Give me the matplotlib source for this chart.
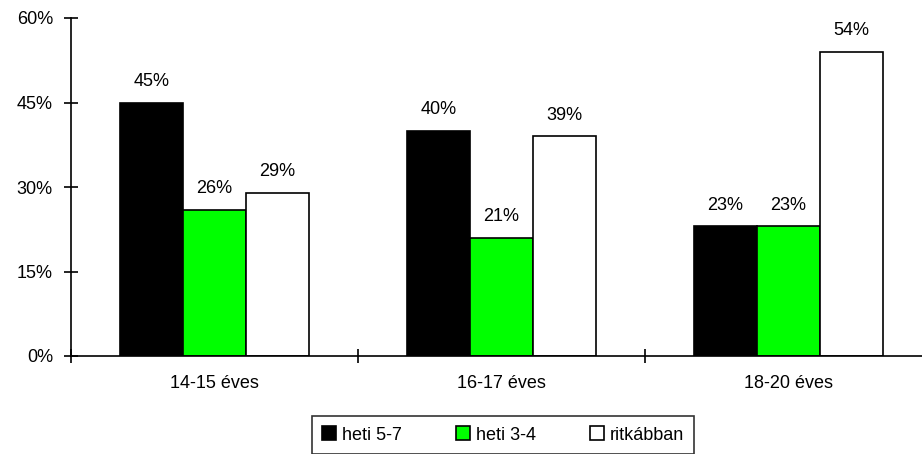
import matplotlib
matplotlib.use("Agg")
import matplotlib.pyplot as plt
import numpy as np
from matplotlib.ticker import FixedLocator, FuncFormatter

plt.rcParams['font.family'] = ['Liberation Sans', 'DejaVu Sans']

categories = ["14-15 éves", "16-17 éves", "18-20 éves"]
series_names = ["heti 5-7", "heti 3-4", "ritkábban"]
heti57 = [45, 40, 23]
heti34 = [26, 21, 23]
ritkabban = [29, 39, 54]
colors = ["#000000", "#00ff00", "#ffffff"]

fig = plt.figure(figsize=(9.22, 4.54), dpi=100)
ax = fig.add_axes([71/922, 98/454, 861/922, 338/454])

x = np.arange(len(categories))
w = 0.22
fs = 13
for i, (vals, name, c) in enumerate(zip([heti57, heti34, ritkabban], series_names, colors)):
    pos = x + (i - 1) * w
    bars = ax.bar(pos, vals, width=w, color=c, edgecolor="black", linewidth=1.2, label=name)
    for b, v in zip(bars, vals):
        ax.annotate(f"{v}%", (b.get_x() + b.get_width() / 2, v), xytext=(0, 9),
                    textcoords="offset points", ha="center", va="bottom", fontsize=fs)

ax.set_xlim(-0.5, 2.5)
ax.set_ylim(0, 60)
ax.yaxis.set_major_locator(FixedLocator([0, 15, 30, 45, 60]))
ax.yaxis.set_major_formatter(FuncFormatter(lambda v, p: f"{v:.0f}%"))
ax.xaxis.set_major_locator(FixedLocator([-0.5, 0.5, 1.5, 2.5]))
ax.xaxis.set_major_formatter(FuncFormatter(lambda v, p: ""))
ax.xaxis.set_minor_locator(FixedLocator(list(x)))
ax.set_xticklabels(categories, minor=True)
ax.tick_params(axis="x", which="minor", length=0, pad=14, labelsize=fs)
ax.tick_params(axis="x", which="major", direction="inout", length=10, width=1.2)
ax.tick_params(axis="y", direction="inout", length=10, width=1.2, pad=8, labelsize=fs)

for s in ["top", "right"]:
    ax.spines[s].set_visible(False)
for s in ["left", "bottom"]:
    ax.spines[s].set_linewidth(1.2)

leg = fig.legend(loc="center", bbox_to_anchor=(503/922, 19/454), ncol=3, fontsize=fs,
                 frameon=True, fancybox=False, edgecolor="black", handlelength=0.8,
                 handleheight=0.8, handletextpad=0.3, columnspacing=3.0, borderpad=0.55,
                 borderaxespad=0)
leg.get_frame().set_linewidth(1.2)

fig.savefig("out.png", dpi=100)
